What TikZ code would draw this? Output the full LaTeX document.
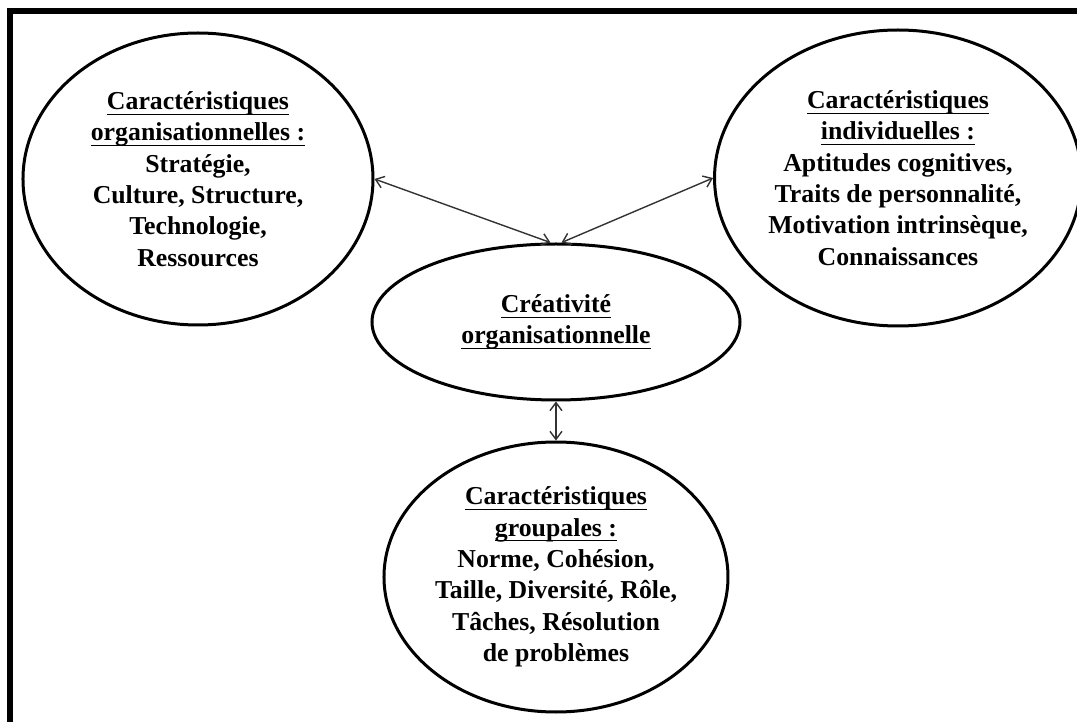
\documentclass[tikz,border=0pt]{standalone}
\usepackage{fontspec}
\setmainfont{Liberation Serif}
\usetikzlibrary{shapes.geometric, arrows.meta, positioning}
\newcommand{\hd}[1]{\underline{\raisebox{0pt}[\height][0.9pt]{#1}}}

\begin{document}
\begin{tikzpicture}[x=1pt, y=1pt,
	blob/.style={ellipse, draw, line width=1.5pt, inner sep=0pt, align=center,
		font=\fontsize{12.9}{15.7}\selectfont\bfseries},
	link/.style={<->, >={Straight Barb[length=4pt, width=6pt]}, line width=0.7pt, black!80},
	frame/.style={line width=3pt, line join=miter}]
	\useasboundingbox (-278,161) rectangle (260.5,-200);
	\draw[frame] (265,155.25) -- (-273,155.25) -- (-273,-205);
	
	\node[blob, minimum width=184pt, minimum height=78pt] (crea) {\hd{Créativité}\\\hd{organisationnelle}};
	\node[blob, on grid, above left=71.5pt and 179pt of crea, minimum width=175pt, minimum height=146pt] (org)
		{\hd{Caractéristiques}\\\hd{organisationnelles :}\\Stratégie,\\Culture, Structure,\\Technologie,\\Ressources};
	\node[blob, on grid, above right=72pt and 171pt of crea, minimum width=174pt, minimum height=148pt] (ind)
		{\hd{Caractéristiques}\\\hd{individuelles :}\\Aptitudes cognitives,\\Traits de personnalité,\\Motivation intrinsèque,\\Connaissances};
	\node[blob, on grid, below=127.5pt of crea, minimum width=172pt, minimum height=135pt] (grp)
		{\hd{Caractéristiques}\\\hd{groupales :}\\Norme, Cohésion,\\Taille, Diversité, Rôle,\\Tâches, Résolution\\de problèmes};
	
	\draw[link] (org.east) -- (crea.94);
	\draw[link] (crea.86) -- (ind.west);
	\draw[link] (crea.south) -- (grp.north);
\end{tikzpicture}
\end{document}
